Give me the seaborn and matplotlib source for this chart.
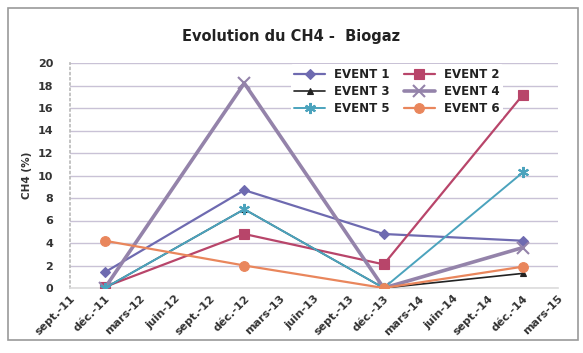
import matplotlib
matplotlib.use("Agg")
import matplotlib.pyplot as plt
import seaborn as sns
import pandas as pd
from matplotlib.patches import Rectangle

# Quarterly axis labels (French Excel date format)
quarters = ["sept.-11", "déc.-11", "mars-12", "juin-12", "sept.-12", "déc.-12",
            "mars-13", "juin-13", "sept.-13", "déc.-13", "mars-14", "juin-14",
            "sept.-14", "déc.-14", "mars-15"]

# Sampling campaigns
campaigns = ["déc.-11", "déc.-12", "déc.-13", "déc.-14"]

# CH4 content (%) per event
event1 = [1.4, 8.7, 4.8, 4.2]
event2 = [0.1, 4.8, 2.1, 17.2]
event3 = [0.0, 7.0, 0.0, 1.3]
event4 = [0.0, 18.2, 0.0, 3.6]
event5 = [0.0, 7.0, 0.0, 10.3]
event6 = [4.2, 2.0, 0.0, 1.9]

series_names = ["EVENT 1", "EVENT 2", "EVENT 3", "EVENT 4", "EVENT 5", "EVENT 6"]
series_values = [event1, event2, event3, event4, event5, event6]

colors = ["#6e6ab0", "#b8456a", "#222222", "#9483aa", "#4ba3bd", "#e9865c"]
markers = ["D", "s", "^", "x", (6, 2, 0), "o"]
msizes = [5, 7, 5, 8, 8, 7]
widths = [1.6, 1.6, 1.2, 2.6, 1.4, 1.6]

rows = []
for name, vals in zip(series_names, series_values):
    for c, v in zip(campaigns, vals):
        rows.append({"event": name, "x": quarters.index(c), "ch4": v})
df = pd.DataFrame(rows)

sns.set_theme(style="white")
plt.rcParams["font.family"] = ["DejaVu Sans"]

fig = plt.figure(figsize=(5.83, 3.53), dpi=100)
ax = fig.add_axes([70 / 583, 1 - 288 / 353, (558 - 70) / 583, (288 - 63) / 353])

handles = {}
for name, col, mk, ms, lw in zip(series_names, colors, markers, msizes, widths):
    sub = df[df["event"] == name]
    sns.lineplot(data=sub, x="x", y="ch4", ax=ax, color=col, marker=mk,
                 markersize=ms, linewidth=lw, markeredgecolor=col,
                 markeredgewidth=1.5 if mk in ("x", (6, 2, 0)) else 0.8,
                 label=name, legend=False, zorder=3)
    handles[name] = ax.lines[-1]

ax.set_xlim(0, 14)
ax.set_ylim(0, 20)
ax.set_yticks(range(0, 21, 2))
ax.set_xticks(range(len(quarters)))
ax.set_xticklabels(quarters, rotation=45, ha="right", rotation_mode="anchor",
                   fontsize=8, fontweight="bold", color="#333333")
ax.tick_params(axis="y", labelsize=8, colors="#333333", length=0, pad=12)
ax.tick_params(axis="x", length=0, pad=4)
for lab in ax.get_yticklabels():
    lab.set_fontweight("bold")

ax.yaxis.grid(True, color="#c9c2d6", linewidth=1.0)
ax.xaxis.grid(False)
for side in ["top", "right"]:
    ax.spines[side].set_visible(False)
ax.spines["left"].set_color("#bbbbbb")
ax.spines["left"].set_linestyle((0, (1, 2)))
ax.spines["bottom"].set_color("#dddddd")

ax.set_xlabel("")
ax.set_ylabel("CH4 (%)", fontsize=7.5, fontweight="bold", color="#333333", labelpad=4)

order = ["EVENT 1", "EVENT 3", "EVENT 5", "EVENT 2", "EVENT 4", "EVENT 6"]
leg = ax.legend([handles[n] for n in order], order, ncol=2, loc="upper left",
                bbox_to_anchor=(0.44, 1.02), frameon=True, facecolor="white",
                edgecolor="none", framealpha=1.0, fontsize=8.5,
                handlelength=2.6, columnspacing=1.2, labelspacing=0.35,
                borderpad=0.3)
for t in leg.get_texts():
    t.set_fontweight("bold")
    t.set_color("#222222")

fig.text(0.5, 1 - 36 / 353, "Evolution du CH4 -  Biogaz", ha="center", va="center",
         fontsize=10.5, fontweight="bold", color="#222222")

# Chart area border
fig.patches.append(Rectangle((8 / 583, 1 - 340 / 353), 570 / 583, 332 / 353,
                             transform=fig.transFigure, fill=False,
                             edgecolor="#9a9a9a", linewidth=1.2))

fig.savefig("out.png", dpi=100, facecolor="white")
